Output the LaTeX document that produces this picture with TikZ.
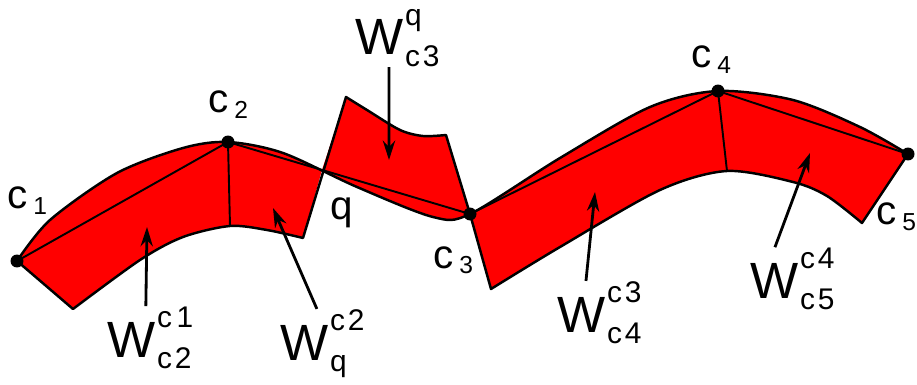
\documentclass[tikz,border=0pt]{standalone}
\usepackage{fontspec}
\setmainfont{Liberation Sans}
\usepackage{tikz}
\usetikzlibrary{arrows.meta}

\newlength{\wupw}
\newlength{\wdnw}
\newcommand{\wscript}{\fontsize{17}{17}\selectfont}
\newcommand{\wreg}[2]{\settowidth{\wupw}{\wscript #1}\settowidth{\wdnw}{\wscript #2}%
  \ifdim\wupw<\wdnw\setlength{\wupw}{\wdnw}\fi
  W\kern1pt\rlap{\raisebox{17pt}{\wscript #1}}\makebox[\wupw][l]{\raisebox{-6.5pt}{\wscript #2}}}
\newcommand{\cpt}[1]{c\kern3pt\raisebox{-3.4pt}{\fontsize{14}{14}\selectfont #1}}

\begin{document}
\begin{tikzpicture}[x=0.02cm, y=-0.02cm,
    dot/.style={circle, fill=black, inner sep=0pt, minimum size=0.26cm},
    region/.style={fill=red},
    edge/.style={line width=1.4pt, line join=round},
    chord/.style={line width=1.1pt},
    pointer/.style={-{Stealth[length=11pt,width=7pt]}, line width=1.6pt},
    lab/.style={inner sep=0pt, anchor=base west},
    ptlab/.style={lab, font=\fontsize{23}{23}\selectfont},
    wlab/.style={lab, font=\fontsize{29}{29}\selectfont}
]
\useasboundingbox (0,0) rectangle (917,385);

\coordinate (c1) at (17,261);
\coordinate (c2) at (228,142);
\coordinate (c3) at (470,214);
\coordinate (c4) at (718,91);
\coordinate (c5) at (908,154);
\coordinate (q) at (322,170);
\coordinate (b1) at (73,309);
\coordinate (b2) at (230,226);
\coordinate (bq) at (303,238);
\coordinate (t3) at (346,97);
\coordinate (t3r) at (446,135);
\coordinate (b4) at (491,289);
\coordinate (b45) at (727,171);
\coordinate (b5) at (862,223);

\fill[region] plot[smooth] coordinates {(17,261) (50,220) (117,173) (183,148) (228,142) (283,153) (357,187) (433,217) (470,214) (560,158) (650,107) (718,91) (793,100) (860,127) (908,154)}
    -- (c4) -- (c3) -- (c2) -- cycle;
\fill[region] (c1) -- (c2) -- (q) -- (bq)
    -- plot[smooth] coordinates {(303,238) (267,230) (230,226) (183,237) (140,260) (73,309)} -- cycle;
\fill[region] (q) -- (t3) -- plot[smooth] coordinates {(346,97) (367,110) (400,130) (423,136) (446,135)} -- (c3) -- cycle;
\fill[region] (c3) -- (c4) -- (c5) -- (b5)
    -- plot[smooth] coordinates {(862,223) (827,196) (793,182) (727,171) (660,190) (560,247) (491,289)} -- cycle;

\draw[edge] plot[smooth] coordinates {(17,261) (50,220) (117,173) (183,148) (228,142) (283,153) (357,187) (433,217) (470,214) (560,158) (650,107) (718,91) (793,100) (860,127) (908,154)};
\draw[chord] (c1) -- (c2) -- (c3) -- (c4) -- (c5);
\draw[chord] (c2) -- (b2);
\draw[chord] (c4) -- (b45);
\draw[edge] (c1) -- (b1)
    -- plot[smooth] coordinates {(73,309) (140,260) (183,237) (230,226) (267,230) (303,238)}
    -- (t3) -- plot[smooth] coordinates {(346,97) (367,110) (400,130) (423,136) (446,135)}
    -- (c3) -- (b4)
    -- plot[smooth] coordinates {(491,289) (560,247) (660,190) (727,171) (793,182) (827,196) (862,223)}
    -- (c5);

\node[dot] (d1) at (c1) {};
\node[dot] (d2) at (c2) {};
\node[dot] (d3) at (c3) {};
\node[dot] (d4) at (c4) {};
\node[dot] (d5) at (c5) {};

\node[ptlab] (lc1) at (7.5,209) {\cpt{1}};
\node[ptlab] (lc2) at (208.5,113) {\cpt{2}};
\node[ptlab] (lc3) at (433.5,268) {\cpt{3}};
\node[ptlab] (lc4) at (691.5,68) {\cpt{4}};
\node[ptlab] (lc5) at (876.5,225) {\cpt{5}};
\node[ptlab] (lq) at (330.5,219) {q};

\node[wlab] (w1) at (107,357) {\wreg{c\kern2.5pt1}{c\kern1.5pt2}};
\node[wlab] (w2) at (280,360) {\wreg{c\kern1.5pt2}{q}};
\node[wlab] (w3) at (355,55) {\wreg{q}{c\kern1.5pt3}};
\node[wlab] (w4) at (557,332) {\wreg{c\kern1.5pt3}{c\kern1.5pt4}};
\node[wlab] (w5) at (750,298) {\wreg{c\kern1.5pt4}{c\kern1.5pt5}};

\coordinate (a1) at (147,227);
\coordinate (a2) at (273,208);
\coordinate (a3) at (389,160);
\coordinate (a4) at (595,192);
\coordinate (a5) at (810,153);

\draw[pointer] (w1.98) -- (a1);
\draw[pointer] (w2.99) -- (a2);
\draw[pointer] (w3.254) -- (a3);
\draw[pointer] (w4.113) -- (a4);
\draw[pointer] (w5.119) -- (a5);
\end{tikzpicture}
\end{document}
